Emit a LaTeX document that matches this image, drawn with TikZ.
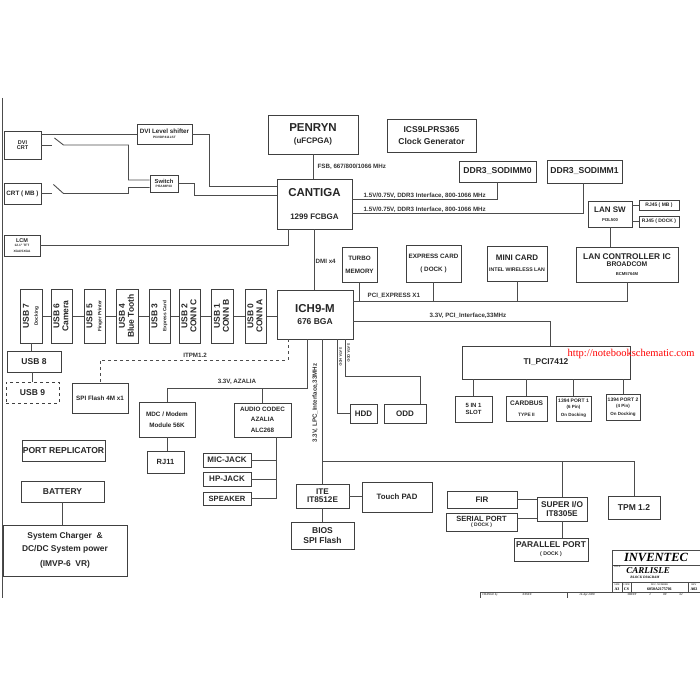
\documentclass[tikz,border=0pt]{standalone}
\usepackage{fontspec}
\setmainfont{Liberation Sans}
\newfontfamily\serifmarca{Liberation Serif}
\usepackage{graphicx}
\newcommand\fsz[1]{\fontsize{#1}{#1}\selectfont}
\newcommand\usbtxt[3]{\rotatebox{90}{\fontsize{8}{9}\selectfont\begin{tabular}{@{}c@{}}{\fsz{8.5}\bfseries #1}\\{\fsz{#3}\bfseries #2}\end{tabular}}}

\begin{document}
\begin{tikzpicture}[
    x=1pt, y=-1pt,
    caja/.style={draw=black!75, line width=0.9pt, inner sep=0.5pt, align=center, text=black!85},
    bus/.style={black!70, line width=0.9pt},
    etiq/.style={font=\fsz{6.2}\bfseries, text=black!80, inner sep=0.5pt}
]
\useasboundingbox (0,0) rectangle (700,700);

% 0. Marco de la hoja
\draw[bus] (2,98) -- (2,598);

% 1. CPU, reloj y CANTIGA
\node[caja, minimum width=90pt, minimum height=39pt, font=\fsz{11.5}\bfseries] (penryn) at (313,134.5) {PENRYN\\[0pt]{\fsz{8}(uFCPGA)}};
\node[caja, minimum width=89pt, minimum height=33pt, font=\fsz{8.5}\bfseries] (ics) at (431.5,135.5) {ICS9LPRS365\\[3pt]Clock Generator};
\node[caja, minimum width=75pt, minimum height=50pt, font=\fsz{11.5}\bfseries] (cantiga) at (314.5,204) {CANTIGA\\[12pt]{\fsz{8}1299 FCBGA}};

% 2. Memoria
\node[caja, minimum width=77pt, minimum height=21pt, font=\fsz{8.6}\bfseries] (sodimm0) at (497.5,171.5) {DDR3\_SODIMM0};
\node[caja, minimum width=75pt, minimum height=23pt, font=\fsz{8.6}\bfseries] (sodimm1) at (584.5,171.5) {DDR3\_SODIMM1};

% 3. Video
\node[caja, minimum width=37pt, minimum height=28pt, font=\fsz{5.5}\bfseries] (dvicrt) at (22.5,145) {DVI\\[-0.5pt]CRT};
\node[caja, minimum width=37pt, minimum height=21pt, font=\fsz{6.3}\bfseries] (crtmb) at (22.5,193.5) {CRT ( MB )};
\node[caja, minimum width=36pt, minimum height=21pt, font=\fsz{5.5}\bfseries] (lcm) at (22,245.5) {LCM\\[-1pt]{\fsz{3.2}12.1" TFT}\\{\fsz{3.2}XGA/SXGA}};
\node[caja, minimum width=55pt, minimum height=20pt, font=\fsz{6.3}\bfseries] (dvils) at (164.5,134) {DVI Level shifter\\[-1pt]{\fsz{3.2}PI3VDP411LST}};
\node[caja, minimum width=28pt, minimum height=17pt, font=\fsz{5.8}\bfseries] (switch) at (164,183.5) {Switch\\[-1pt]{\fsz{3.2}PI5A88P3X}};

\draw[bus] (dvicrt.east |- dvils.west) -- (dvils.west);
\draw[bus] (dvicrt.east) -- ++(11,0);
\draw[bus] ([shift={(13,-7)}]dvicrt.east) -- ++(9,7) -- ++(65,0) |- ([yshift=3.5pt]switch.west);
\draw[bus] (crtmb.east) -- ++(11,0);
\draw[bus] ([shift={(12,-9)}]crtmb.east) -- ++(10,9) -- ++(65,0) |- ([yshift=-4pt]switch.west);
\draw[bus] (switch.east) -- ++(16,0) |- ([yshift=9pt]cantiga.west);
\draw[bus] (dvils.east) -- ++(17,0) |- ([yshift=18pt]cantiga.west);
\draw[bus] (lcm.east) -| ([xshift=-26.5pt]cantiga.south);

% 4. Buses del CANTIGA
\draw[bus] (penryn.south) -- (penryn.south |- cantiga.north);
\node[etiq, anchor=west] at (317,167) {FSB, 667/800/1066 MHz};
\draw[bus] ([yshift=5pt]cantiga.east) -| (sodimm0.south);
\node[etiq, anchor=west] at (363,196) {1.5V/0.75V, DDR3 Interface, 800-1066 MHz};
\draw[bus] ([yshift=-9pt]cantiga.east) -| ([xshift=-1.5pt]sodimm1.south);
\node[etiq, anchor=west] at (363,209.5) {1.5V/0.75V, DDR3 Interface, 800-1066 MHz};

% 5. ICH9-M
\node[caja, minimum width=76pt, minimum height=49pt, font=\fsz{11.5}\bfseries] (ich) at (315,314.5) {ICH9-M\\[0pt]{\fsz{8.5}676 BGA}};
\draw[bus] (cantiga.south) -- (cantiga.south |- ich.north);
\node[etiq, anchor=west] at (315,261) {DMI x4};

% 6. PCI Express
\node[caja, minimum width=35pt, minimum height=35pt, font=\fsz{6.3}\bfseries] (turbo) at (359.5,264.5) {TURBO\\[7pt]MEMORY};
\node[caja, minimum width=55pt, minimum height=37pt, font=\fsz{6.3}\bfseries] (expcard) at (433.5,263.5) {EXPRESS CARD\\[7pt]( DOCK )};
\node[caja, minimum width=60pt, minimum height=35pt, font=\fsz{8}\bfseries] (minicard) at (517,263.5) {MINI CARD\\[3pt]{\fsz{5.2}INTEL WIRELESS LAN}};
\node[caja, minimum width=102pt, minimum height=35pt, font=\fsz{8.3}\bfseries] (lanctrl) at (627,264.5) {LAN CONTROLLER IC\\[-1pt]{\fsz{6.8}BROADCOM}\\[1pt]{\fsz{4.2}BCM5764M}};
\node[caja, minimum width=44pt, minimum height=26pt, font=\fsz{8}\bfseries] (lansw) at (610,214) {LAN SW\\[1pt]{\fsz{4.2}PI3L500}};
\node[caja, minimum width=40pt, minimum height=10pt, font=\fsz{5}\bfseries] (rj45mb) at (659,205) {RJ45 ( MB )};
\node[caja, minimum width=40pt, minimum height=11pt, font=\fsz{5}\bfseries] (rj45dock) at (659,221.5) {RJ45 ( DOCK )};

\draw[bus] (lansw.east |- rj45mb.west) -- (rj45mb.west);
\draw[bus] (lansw.east |- rj45dock.west) -- (rj45dock.west);
\draw[bus] (lansw.south) -- (lansw.south |- lanctrl.north);

\coordinate (pcie) at ([yshift=13.5pt]ich.east);
\draw[bus] (pcie) -| (lanctrl.south);
\draw[bus] (turbo.south) -- (turbo.south |- pcie);
\draw[bus] (expcard.south) -- (expcard.south |- pcie);
\draw[bus] (minicard.south) -- (minicard.south |- pcie);
\node[etiq, anchor=west] at (367,296) {PCI\_EXPRESS X1};

% 7. PCI y TI_PCI7412
\node[caja, minimum width=168pt, minimum height=33pt, font=\fsz{8.4}\bfseries] (tipci) at (546,362.5) {TI\_PCI7412};
\draw[bus] ([yshift=-6.5pt]ich.east) -| ([xshift=4pt]tipci.north);
\node[etiq, anchor=west] at (429,316) {3.3V, PCI\_Interface,33MHz};
\node[caja, minimum width=37pt, minimum height=26pt, font=\fsz{6}\bfseries] (slot) at (473.5,409) {5 IN 1\\[1pt]SLOT};
\node[caja, minimum width=41pt, minimum height=25pt, font=\fsz{6.6}\bfseries] (cardbus) at (526.5,408.5) {CARDBUS\\[5pt]{\fsz{4.8}TYPE II}};
\node[caja, minimum width=35pt, minimum height=25pt, font=\fsz{5}\bfseries] (p1394a) at (573.5,408.5) {1394 PORT 1\\[1pt]{\fsz{4.5}(6 Pin)}\\[3pt]{\fsz{4.5}On Docking}};
\node[caja, minimum width=34pt, minimum height=26pt, font=\fsz{5}\bfseries] (p1394b) at (623,407) {1394 PORT 2\\[1pt]{\fsz{4.5}(4 Pin)}\\[3pt]{\fsz{4.5}On Docking}};
\foreach \n in {slot, cardbus, p1394a, p1394b}
  \draw[bus] (\n.north |- tipci.south) -- (\n.north);
\node[font=\serifmarca\fsz{10.5}, text=red, inner sep=0pt] (web) at (631,354) {http://notebookschematic.com};

% 8. USB
\foreach \nombre/\cx/\uno/\dos/\tam in {usb7/31.5/USB 7/Docking/4.8, usb6/62/USB 6/Camera/8.5, usb5/95/USB 5/Finger Printer/4.8, usb4/127.5/USB 4/Blue Tooth/8.5, usb3/160/USB 3/Express Card/4.8, usb2/190/USB 2/CONN C/8.5, usb1/222.5/USB 1/CONN B/8.5, usb0/256/USB 0/CONN A/8.5}
  \node[caja, minimum width=21.5pt, minimum height=54pt] (\nombre) at (\cx,316) {\usbtxt{\uno}{\dos}{\tam}};
\foreach \a/\b in {usb7/usb6, usb6/usb5, usb5/usb4, usb4/usb3, usb3/usb2, usb2/usb1, usb1/usb0}
  \draw[bus] (\a.east) -- (\b.west);
\draw[bus] (usb0.east) -- (usb0.east -| ich.west);
\node[caja, minimum width=54pt, minimum height=21pt, font=\fsz{8.5}\bfseries] (usb8) at (34,361.5) {USB 8};
\node[caja, dashed, minimum width=53pt, minimum height=21pt, font=\fsz{8.5}\bfseries] (usb9) at (32.5,392.5) {USB 9};
\draw[bus] (usb7.south) -- (usb7.south |- usb8.north);
\draw[bus] (usb9.north |- usb8.south) -- (usb9.north);

% 9. SPI, ITPM y AZALIA
\node[caja, minimum width=56pt, minimum height=30pt, font=\fsz{6.3}\bfseries] (spiflash) at (100,398) {SPI Flash 4M x1};
\draw[bus, dashed] ([xshift=-27pt]ich.south) -- ++(0,21) -| (spiflash.north);
\node[etiq] at (195,355) {ITPM1.2};

\node[caja, minimum width=56pt, minimum height=35pt, font=\fsz{6.3}\bfseries] (mdc) at (167,419.5) {MDC / Modem\\[5pt]Module 56K};
\node[caja, minimum width=57pt, minimum height=34pt, font=\fsz{6.3}\bfseries] (codec) at (262.5,420) {AUDIO CODEC\\[3.5pt]AZALIA\\[4.5pt]ALC268};
\coordinate (aza) at ([shift={(-8,49)}]ich.south);
\draw[bus] ([xshift=-8pt]ich.south) -- (aza) -| (mdc.north);
\draw[bus] (codec.north) -- (codec.north |- aza);
\node[etiq] at (237,382) {3.3V, AZALIA};

\node[caja, minimum width=37pt, minimum height=22pt, font=\fsz{7.5}\bfseries] (rj11) at (165.5,462) {RJ11};
\draw[bus] (mdc.south) -- (mdc.south |- rj11.north);
\node[caja, minimum width=48pt, minimum height=14pt, font=\fsz{8}\bfseries] (mic) at (227,460) {MIC-JACK};
\node[caja, minimum width=48pt, minimum height=14pt, font=\fsz{8}\bfseries] (hp) at (227,479) {HP-JACK};
\node[caja, minimum width=48pt, minimum height=13pt, font=\fsz{7.6}\bfseries] (spk) at (227,498.5) {SPEAKER};
\coordinate (jk) at ([xshift=13.5pt]codec.south);
\draw[bus] (jk) |- (spk.east);
\draw[bus] (mic.east) -- (mic.east -| jk);
\draw[bus] (hp.east) -- (hp.east -| jk);

% 10. Alimentacion
\node[caja, minimum width=83pt, minimum height=21pt, font=\fsz{8.6}\bfseries] (portrep) at (63.5,450.5) {PORT REPLICATOR};
\node[caja, minimum width=83pt, minimum height=21pt, font=\fsz{8.5}\bfseries] (battery) at (62.5,491.5) {BATTERY};
\node[caja, minimum width=124pt, minimum height=51pt, font=\fsz{8.4}\bfseries] (charger) at (65,550.5) {System Charger \ \&\\[4pt]DC/DC System power\\[7pt](IMVP-6 \ VR)};
\draw[bus] (battery.south) -- (battery.south |- charger.north);

% 11. SATA
\node[caja, minimum width=27pt, minimum height=19pt, font=\fsz{8}\bfseries] (hdd) at (363.5,413.5) {HDD};
\node[caja, minimum width=42pt, minimum height=19pt, font=\fsz{8}\bfseries] (odd) at (405,413.5) {ODD};
\draw[bus] ([xshift=22pt]ich.south) |- (hdd.west);
\draw[bus] ([xshift=30pt]ich.south) -- ++(0,37) -| ([xshift=15pt]odd.north);
\node[etiq, font=\fsz{3.6}\bfseries, rotate=-90] at (340.5,357) {SATA HDD};
\node[etiq, font=\fsz{3.6}\bfseries, rotate=-90] at (348.5,353) {SATA ODD};

% 12. LPC
\node[caja, minimum width=53pt, minimum height=24pt, font=\fsz{8.2}\bfseries] (ite) at (322.5,496) {ITE\\[0pt]IT8512E};
\node[caja, minimum width=70pt, minimum height=30pt, font=\fsz{7.8}\bfseries] (touchpad) at (397,497) {Touch PAD};
\node[caja, minimum width=63pt, minimum height=27pt, font=\fsz{8.5}\bfseries] (bios) at (322.5,535.5) {BIOS\\[1pt]SPI Flash};
\draw[bus] (ite.north |- ich.south) -- (ite.north);
\node[etiq, rotate=90] at (315,403) {3.3V, LPC\_Interface,33MHz};
\draw[bus] (ite.east) -- (ite.east -| touchpad.west);
\draw[bus] (ite.south) -- (ite.south |- bios.north);

\node[caja, minimum width=70pt, minimum height=17pt, font=\fsz{8}\bfseries] (fir) at (482,499.5) {FIR};
\node[caja, minimum width=71pt, minimum height=18pt, font=\fsz{7.5}\bfseries] (serial) at (481.5,522) {SERIAL PORT\\[-2pt]{\fsz{5}( DOCK )}};
\node[caja, minimum width=50pt, minimum height=24pt, font=\fsz{8.3}\bfseries] (superio) at (562,509) {SUPER I/O\\[0pt]IT8305E};
\node[caja, minimum width=52pt, minimum height=23pt, font=\fsz{8.5}\bfseries] (tpm) at (634,507.5) {TPM 1.2};
\node[caja, minimum width=74pt, minimum height=23pt, font=\fsz{8.4}\bfseries] (parallel) at (551,549.5) {PARALLEL PORT\\[-0.5pt]{\fsz{5.2}( DOCK )}};
\coordinate (lpcbr) at ([yshift=22pt]ite.north);
\draw[bus] (lpcbr) -| (tpm.north);
\draw[bus] (superio.north) -- (superio.north |- lpcbr);
\draw[bus] (fir.east) -- (fir.east -| superio.west);
\draw[bus] ([yshift=4pt]serial.east) -- ([yshift=4pt]serial.east -| superio.west);
\draw[bus] (superio.south) -- (superio.south |- parallel.north);

% 13. Cajetin
\draw[bus, line width=0.7pt] (612,550) rectangle (700,592);
\draw[bus, line width=0.5pt] (612,565) -- (700,565) (612,582) -- (700,582);
\draw[bus, line width=0.5pt] (622,582) -- (622,592) (631,582) -- (631,592) (688,582) -- (688,592);
\draw[bus, line width=0.5pt] (480,592) -- (612,592) (480,592) -- (480,598) (567,592) -- (567,598);
\node[font=\serifmarca\fsz{12.5}\bfseries\itshape, inner sep=0pt] (inventec) at (656,557) {INVENTEC};
\node[font=\serifmarca\fsz{2.5}, inner sep=0pt] at (617,567) {TITLE};
\node[font=\serifmarca\fsz{9}\bfseries\itshape, inner sep=0pt] (carlisle) at (648,570.5) {CARLISLE};
\node[font=\serifmarca\fsz{3.5}\bfseries\itshape, inner sep=0pt] at (645,577.5) {BLOCK DIAGRAM};
\foreach \cx/\tit/\val in {617/SIZE/A3, 626.5/CODE/CS, 659.5/DOC. NUMBER/6050A2175701, 694/REV/A02} {
  \node[font=\serifmarca\fsz{2.5}, inner sep=0pt] at (\cx,584.5) {\tit};
  \node[font=\serifmarca\fsz{4}\bfseries, inner sep=0pt] at (\cx,589) {\val};
}
\foreach \cx/\txt in {490/CHANGE by, 527/XXXXX, 587/14-Apr-2008, 632/SHEET, 650/2, 665/OF, 681/62}
  \node[font=\serifmarca\fsz{3}\itshape, inner sep=0pt] at (\cx,595) {\txt};

\end{tikzpicture}
\end{document}
